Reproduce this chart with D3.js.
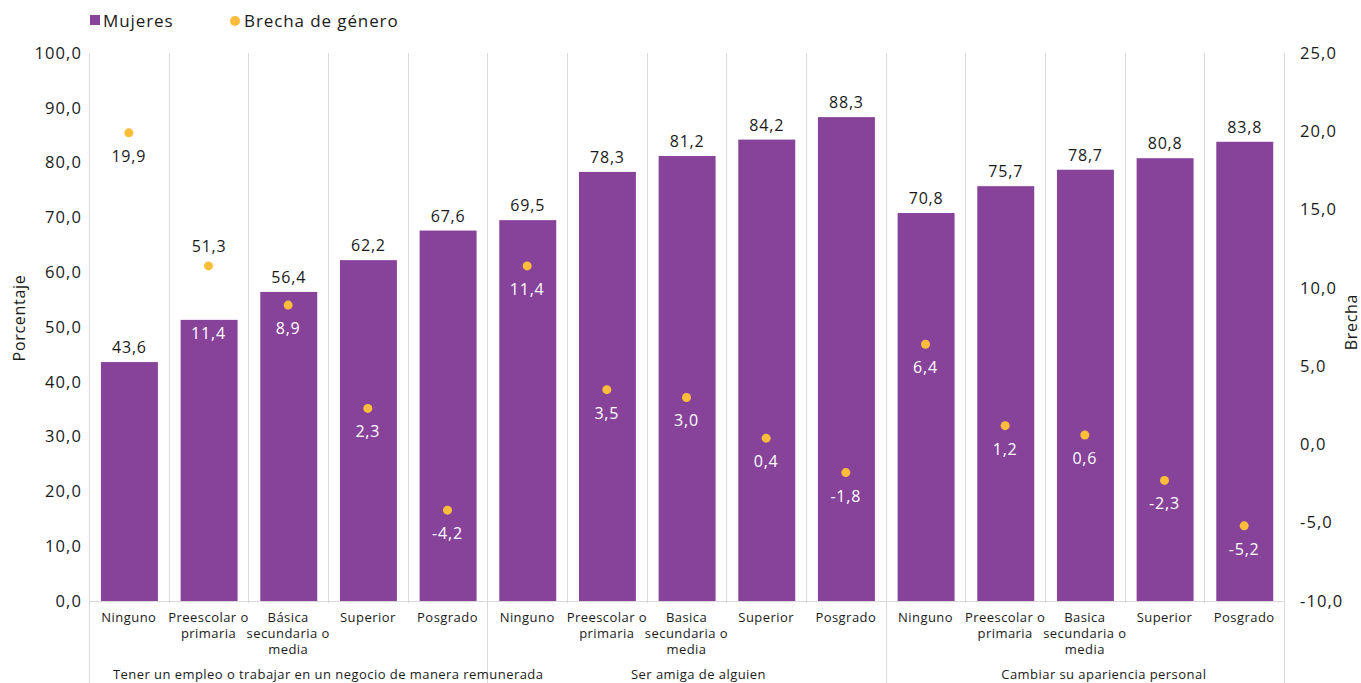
<!DOCTYPE html>
<html><head><meta charset="utf-8">
<script src="https://cdn.jsdelivr.net/npm/d3@7"></script>
<style>body{margin:0;background:#fff;} text{font-family:"Open Sans", "Noto Sans", sans-serif;}</style>
</head><body><svg id="c" width="1361" height="683"></svg>
<script>
const groups = ["Tener un empleo o trabajar en un negocio de manera remunerada","Ser amiga de alguien","Cambiar su apariencia personal"];
const levels = [
  ["Ninguno","Preescolar o|primaria","Básica|secundaria o|media","Superior","Posgrado"],
  ["Ninguno","Preescolar o|primaria","Basica|secundaria o|media","Superior","Posgrado"],
  ["Ninguno","Preescolar o|primaria","Basica|secundaria o|media","Superior","Posgrado"]
];
const mujeres = [43.6,51.3,56.4,62.2,67.6, 69.5,78.3,81.2,84.2,88.3, 70.8,75.7,78.7,80.8,83.8];
const brecha = [19.9,11.4,8.9,2.3,-4.2, 11.4,3.5,3.0,0.4,-1.8, 6.4,1.2,0.6,-2.3,-5.2];
const leftTicks = [0,10,20,30,40,50,60,70,80,90,100];
const rightTicks = [-10,-5,0,5,10,15,20,25];

const purple = "#87439A", gold = "#FBBD3A", grid = "#D9D9D9", ink = "#1a1a1a";
const FF = "'Open Sans', 'Noto Sans', sans-serif";
const svg = d3.select("#c");
const L = 89, R = 1284, T = 53, B = 601;
const groupLabelShift = [40, 12, 19]; // layout nudges matching the reference
const fmt = v => d3.format(".1f")(v).replace(".", ",").replace("−","-");

const cats = [];
levels.forEach((g,gi)=>g.forEach((c,ci)=>cats.push({g:gi,label:c,i:cats.length})));
const x = d3.scaleBand().domain(d3.range(cats.length)).range([L,R]).padding(0);
const y = d3.scaleLinear().domain([0,100]).range([B,T]);
const y2 = d3.scaleLinear().domain([-10,25]).range([B,T]);
const bw = x.bandwidth();

// gridlines (vertical category separators)
const gl = svg.append("g");
d3.range(cats.length+1).forEach(k=>{
  const xx = Math.round(L + k*bw) + 0.5;
  const isGroup = k % 5 === 0;
  gl.append("line").attr("x1",xx).attr("x2",xx).attr("y1",T).attr("y2", isGroup ? 683 : B+2)
    .attr("stroke",grid).attr("stroke-width",1);
});
gl.append("line").attr("x1",L).attr("x2",R).attr("y1",B+0.5).attr("y2",B+0.5).attr("stroke",grid);

// bars
svg.append("g").selectAll("rect").data(mujeres).join("rect")
  .attr("x",(d,i)=>x(i)+bw*0.15).attr("width",bw*0.715)
  .attr("y",d=>y(d)).attr("height",d=>B-y(d)).attr("fill",purple);

// label placement: avoid collisions between the bar label and the dot
const lab = mujeres.map((m,i)=>{
  const top = y(m), dy = y2(brecha[i]);
  let barBase = top - 9, gapBase = dy + 29;
  if (gapBase > top - 26 && gapBase < top + 20) { barBase = dy - 14; gapBase = top + 19; }
  return {barBase, gapBase, inside: gapBase - 12 > top};
});

svg.append("g").selectAll("text").data(mujeres).join("text")
  .attr("x",(d,i)=>x(i)+bw*0.15+bw*0.715/2).attr("y",(d,i)=>lab[i].barBase)
  .attr("text-anchor","middle").attr("font-size",16).attr("letter-spacing",0.8)
  .attr("fill",ink).text(d=>fmt(d));

// dots
svg.append("g").selectAll("circle").data(brecha).join("circle")
  .attr("cx",(d,i)=>x(i)+bw/2).attr("cy",d=>y2(d)).attr("r",4.5).attr("fill",gold);
svg.append("g").selectAll("text").data(brecha).join("text")
  .attr("x",(d,i)=>x(i)+bw/2).attr("y",(d,i)=>lab[i].gapBase)
  .attr("text-anchor","middle").attr("font-size",16).attr("letter-spacing",0.8)
  .attr("fill",(d,i)=> lab[i].inside ? "#fff" : ink).text(d=>fmt(d));

// left axis
const la = svg.append("g").attr("transform",`translate(${L},0)`)
  .call(d3.axisLeft(y).tickValues(leftTicks).tickSize(0).tickPadding(7).tickFormat(fmt));
la.select(".domain").remove();
la.selectAll("text").attr("font-size",16.5).attr("letter-spacing",1.1).attr("fill",ink).attr("font-family",FF);

const ra = svg.append("g").attr("transform",`translate(${R},0)`)
  .call(d3.axisRight(y2).tickValues(rightTicks).tickSize(0).tickPadding(16).tickFormat(fmt));
ra.select(".domain").remove();
ra.selectAll("text").attr("font-size",16.5).attr("letter-spacing",1.1).attr("fill",ink).attr("font-family",FF);

// axis titles
svg.append("text").attr("transform","translate(25,318) rotate(-90)").attr("text-anchor","middle")
  .attr("font-size",16).attr("letter-spacing",0.7).attr("fill",ink).text("Porcentaje");
svg.append("text").attr("transform","translate(1357,322) rotate(-90)").attr("text-anchor","middle")
  .attr("font-size",16).attr("letter-spacing",0.7).attr("fill",ink).text("Brecha");

// category labels
const cl = svg.append("g");
cats.forEach(c=>{
  const t = cl.append("text").attr("x",x(c.i)+bw/2).attr("y",622).attr("text-anchor","middle")
    .attr("font-size",13).attr("letter-spacing",0.45).attr("fill",ink);
  c.label.split("|").forEach((ln,j)=>t.append("tspan").attr("x",x(c.i)+bw/2).attr("dy",j?16:0).text(ln));
});
groups.forEach((g,gi)=>{
  cl.append("text").attr("x",L+bw*5*gi+bw*2.5+groupLabelShift[gi]).attr("y",679).attr("text-anchor","middle")
    .attr("font-size",13).attr("letter-spacing",0.45).attr("fill",ink).text(g);
});

// legend
const lg = svg.append("g");
lg.append("rect").attr("x",90).attr("y",15).attr("width",10).attr("height",10).attr("fill",purple);
lg.append("text").attr("x",103).attr("y",27).attr("font-size",17).attr("letter-spacing",0.9).attr("fill",ink).text("Mujeres");
lg.append("circle").attr("cx",235).attr("cy",21).attr("r",5).attr("fill",gold);
lg.append("text").attr("x",244).attr("y",27).attr("font-size",17).attr("letter-spacing",0.9).attr("fill",ink).text("Brecha de género");
</script></body></html>
